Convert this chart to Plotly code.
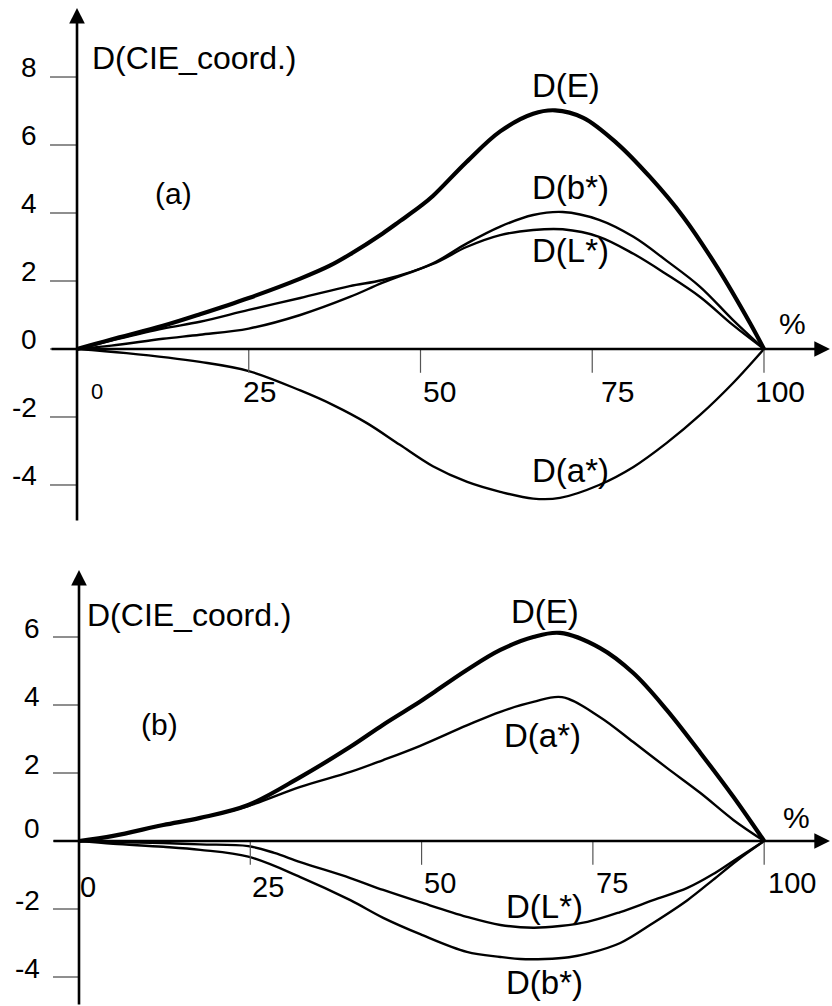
import plotly.graph_objects as go

# ---------------- data ----------------
# Panel (a)
a_E_x = [0, 5, 12.5, 17.9, 25, 32.5, 36.8, 39.7, 44.5, 47, 50, 51.8, 56.7, 61.6, 66.4, 69.6, 73.7, 78.6, 83.4, 88.2, 93.2, 98, 100]
a_E_y = [0, 0.28, 0.68, 1.02, 1.5, 2.07, 2.45, 2.78, 3.4, 3.76, 4.2, 4.5, 5.5, 6.4, 6.92, 7.02, 6.8, 6.05, 5.06, 3.9, 2.4, 0.75, 0]

a_L_x = [0, 5, 12.5, 17.9, 25, 32.5, 39.7, 44.5, 51.8, 56.7, 61.6, 66.4, 70.7, 76, 81, 85.8, 90.7, 95.5, 100]
a_L_y = [0, 0.25, 0.6, 0.8, 1.15, 1.5, 1.85, 2.03, 2.5, 3.0, 3.35, 3.5, 3.52, 3.3, 2.8, 2.2, 1.53, 0.7, 0]

a_b_x = [0, 5, 12.5, 17.9, 25, 32.5, 39.7, 44.5, 51.8, 56.7, 61.6, 66.4, 70.7, 76, 81, 85.8, 90.7, 95.5, 100]
a_b_y = [0, 0.1, 0.3, 0.42, 0.6, 1.0, 1.53, 1.95, 2.52, 3.1, 3.6, 3.94, 4.03, 3.8, 3.3, 2.6, 1.83, 0.85, 0]

a_a_x = [0, 7.2, 17.9, 25, 32.5, 37.3, 42.2, 47, 51.8, 56.8, 61.6, 66.4, 70.3, 76, 81, 85.8, 90.7, 95.5, 100]
a_a_y = [0, -0.12, -0.38, -0.65, -1.22, -1.65, -2.18, -2.82, -3.45, -3.91, -4.2, -4.4, -4.38, -4.0, -3.47, -2.77, -1.94, -1.0, 0]

# Panel (b)
b_E_x = [0, 5, 12.3, 17.7, 24.7, 32.3, 39.6, 44.4, 49.8, 51.7, 56.6, 61.5, 66.3, 70.2, 76, 80.9, 85.8, 90.7, 95.5, 100]
b_E_y = [0, 0.15, 0.47, 0.68, 1.06, 1.88, 2.77, 3.42, 4.1, 4.36, 5.03, 5.62, 6.0, 6.12, 5.68, 4.94, 3.85, 2.59, 1.3, 0]

b_a_x = [0, 5, 12.3, 17.7, 24.7, 32.3, 39.6, 44.4, 49.8, 56.6, 61.5, 66.3, 70.5, 76, 80.9, 85.8, 90.7, 95.5, 100]
b_a_y = [0, 0.15, 0.47, 0.68, 1.03, 1.59, 2.03, 2.38, 2.8, 3.4, 3.8, 4.09, 4.23, 3.65, 2.91, 2.15, 1.41, 0.62, 0]

b_L_x = [0, 5, 12.3, 17.7, 24.7, 28.5, 32.3, 39.6, 44.4, 49.8, 56.6, 61.5, 66.3, 70.2, 74.2, 79, 83.8, 88.8, 92.5, 96, 100]
b_L_y = [0, -0.03, -0.06, -0.1, -0.15, -0.35, -0.62, -1.09, -1.44, -1.8, -2.23, -2.47, -2.55, -2.5, -2.38, -2.09, -1.74, -1.38, -0.98, -0.52, 0]

b_b_x = [0, 5, 12.3, 17.7, 24.7, 32.3, 39.6, 44.4, 49.8, 56.6, 61.5, 64.4, 68, 71.5, 74.5, 79, 83.8, 88.8, 92.5, 96, 100]
b_b_y = [0, -0.08, -0.17, -0.26, -0.46, -1.06, -1.74, -2.26, -2.74, -3.26, -3.41, -3.47, -3.47, -3.42, -3.3, -3.0, -2.41, -1.74, -1.15, -0.58, 0]

x_ticks = [25, 50, 75, 100]
x_tick_labels = ["0", "25", "50", "75", "100"]
y_ticks_a = [8, 6, 4, 2, 0, -2, -4]
y_ticks_b = [6, 4, 2, 0, -2, -4]

FONT = "Liberation Sans, Arial, sans-serif"
BLACK = "black"

fig = go.Figure()

def curve(x, y, xa, ya, w):
    fig.add_trace(go.Scatter(x=x, y=y, mode="lines", xaxis=xa, yaxis=ya,
                             line=dict(color=BLACK, width=w, shape="spline", smoothing=1.0),
                             hoverinfo="skip", showlegend=False))

curve(a_E_x, a_E_y, "x", "y", 4.2)
curve(a_L_x, a_L_y, "x", "y", 2.4)
curve(a_b_x, a_b_y, "x", "y", 2.4)
curve(a_a_x, a_a_y, "x", "y", 2.4)

curve(b_E_x, b_E_y, "x2", "y2", 4.2)
curve(b_a_x, b_a_y, "x2", "y2", 2.4)
curve(b_L_x, b_L_y, "x2", "y2", 2.4)
curve(b_b_x, b_b_y, "x2", "y2", 2.4)

shapes = []
annotations = []

def axes_for(panel):
    return ("x", "y") if panel == "a" else ("x2", "y2")

def tick_marks(panel, yticks, xleft):
    xr, yr = axes_for(panel)
    for t in yticks:
        shapes.append(dict(type="line", xref=xr, yref=yr, x0=xleft, x1=0, y0=t, y1=t,
                           line=dict(color="#444", width=1.2)))
    for t in x_ticks:
        shapes.append(dict(type="line", xref=xr, yref=yr, x0=t, x1=t, y0=0, y1=-0.7,
                           line=dict(color="#555", width=1.2)))

tick_marks("a", y_ticks_a, -3.93)
tick_marks("b", y_ticks_b, -3.8)

def axis_arrow(panel, x0, y0, x1, y1):
    xr, yr = axes_for(panel)
    annotations.append(dict(x=x1, y=y1, ax=x0, ay=y0, xref=xr, yref=yr, axref=xr, ayref=yr,
                            text="", showarrow=True, arrowhead=2, arrowsize=1.2,
                            arrowwidth=2.6, arrowcolor=BLACK, standoff=0, startstandoff=0))

axis_arrow("a", -3.93, 0, 109.6, 0)
axis_arrow("a", 0, -5.09, 0, 10.03)
axis_arrow("b", -3.94, 0, 109.6, 0)
axis_arrow("b", 0, -4.85, 0, 7.97)

def text(panel, x, y, s, size, xanchor="center"):
    xr, yr = axes_for(panel)
    annotations.append(dict(x=x, y=y, xref=xr, yref=yr, text=s, showarrow=False,
                            xanchor=xanchor, yanchor="middle",
                            font=dict(family=FONT, size=size, color=BLACK)))

# panel (a) texts
text("a", 1.9, 8.56, "D(CIE_coord.)", 32, "left")
text("a", 14.0, 4.56, "(a)", 30)
text("a", 71.2, 7.74, "D(E)", 33)
text("a", 71.8, 4.76, "D(b*)", 33)
text("a", 71.8, 2.91, "D(L*)", 33)
text("a", 104.2, 0.76, "%", 30)
text("a", 71.8, -3.56, "D(a*)", 33)
x_label_pos_a = [2.9, 26.6, 52.7, 78.7, 102.3]
for xp, s in zip(x_label_pos_a, x_tick_labels):
    text("a", xp, -1.24, s, 22 if s == "0" else 30)
for t in y_ticks_a:
    text("a", -5.53, t + 0.29, str(t), 28, "right")

# panel (b) texts
text("b", 0.88, 6.65, "D(CIE_coord.)", 32, "left")
text("b", 11.8, 3.44, "(b)", 30)
text("b", 68.0, 6.74, "D(E)", 33)
text("b", 67.7, 3.09, "D(a*)", 33)
text("b", 104.7, 0.68, "%", 30)
text("b", 67.9, -1.94, "D(L*)", 33)
text("b", 67.9, -4.15, "D(b*)", 33)
x_label_pos_b = [1.3, 27.6, 52.7, 77.8, 104.1]
x_label_y_b = [-1.35, -1.35, -1.24, -1.24, -1.24]
for xp, yp, s in zip(x_label_pos_b, x_label_y_b, x_tick_labels):
    text("b", xp, yp, s, 29)
for t in y_ticks_b:
    text("b", -5.4, t + (0.38 if t == 0 else 0.26), str(t), 28, "right")

hidden = dict(visible=False, showgrid=False, zeroline=False, fixedrange=True)
fig.update_layout(
    width=832, height=1006,
    margin=dict(l=0, r=0, t=0, b=0),
    paper_bgcolor="white", plot_bgcolor="white",
    showlegend=False,
    xaxis=dict(domain=[0, 1], range=[-11.21, 109.9], anchor="y", **hidden),
    yaxis=dict(domain=[0.47316, 1], range=[-5.324, 10.265], anchor="x", **hidden),
    xaxis2=dict(domain=[0, 1], range=[-11.53, 109.9], anchor="y2", **hidden),
    yaxis2=dict(domain=[0, 0.46322], range=[-4.853, 8.853], anchor="x2", **hidden),
    shapes=shapes,
    annotations=annotations,
)

fig.write_html("out.html", config={"displayModeBar": False},
               post_script="document.body.style.margin='0';document.body.style.padding='0';document.body.style.overflow='hidden';")
